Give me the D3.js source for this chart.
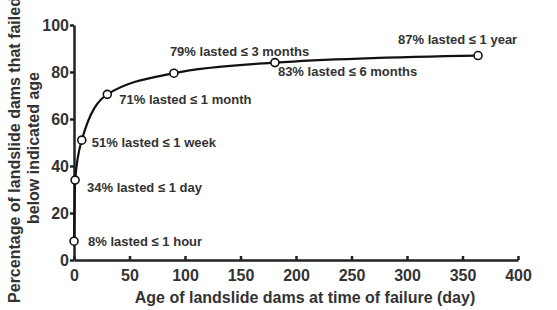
<!DOCTYPE html>
<html>
<head>
<meta charset="utf-8">
<script src="https://cdn.jsdelivr.net/npm/d3@7"></script>
<style>
body { margin: 0; background: #fff; }
text { font-family: "Liberation Sans", Arial, sans-serif; font-weight: bold; fill: #333; }
.axis path, .axis line { stroke: #222; stroke-width: 2.5; }
.axis text { font-size: 16px; }
.note { font-size: 13px; }
.title { font-size: 16px; }
</style>
</head>
<body>
<script>
//Global variables
const width = 557;
const height = 310;

//Data: age of dam (days) and cumulative % failed
const ages = [0.04, 1, 7, 30, 90, 181, 364];
const percents = [8, 34, 51, 70.5, 79.5, 84, 87];
const notes = ["8% lasted ≤ 1 hour", "34% lasted ≤ 1 day", "51% lasted ≤ 1 week",
    "71% lasted ≤ 1 month", "79% lasted ≤ 3 months", "83% lasted ≤ 6 months", "87% lasted ≤ 1 year"];
const xTicks = [0, 50, 100, 150, 200, 250, 300, 350, 400];
const yTicks = [0, 20, 40, 60, 80, 100];

//label offsets from each point (px)
const noteDx = [14, 12, 10, 12, -4, 3, -80];
const noteDy = [5, 12, 7, 10, -17, 13, -12];

const data = ages.map((a, i) => ({age: a, pct: percents[i], note: notes[i]}));

//Scales
const xScale = d3.scaleLinear()
    .domain([0, 400])
    .range([74, 518]);

const yScale = d3.scaleLinear()
    .domain([0, 100])
    .range([260, 25]);

//SVG element
const svg = d3.select("body")
    .append("svg")
    .attr("width", width)
    .attr("height", height);

//Axes
svg.append("g")
    .attr("class", "axis")
    .attr("transform", "translate(0,260)")
    .call(d3.axisBottom(xScale).tickValues(xTicks).tickSizeInner(-4).tickSizeOuter(0).tickPadding(10))
    .call(g => g.selectAll(".tick text").attr("fill", "#333"));

svg.append("g")
    .attr("class", "axis")
    .attr("transform", "translate(74,0)")
    .call(d3.axisLeft(yScale).tickValues(yTicks).tickSizeInner(4).tickSizeOuter(0).tickPadding(1))
    .call(g => g.selectAll(".tick text").attr("fill", "#333"));

//Line
const line = d3.line()
    .x(d => xScale(d.age))
    .y(d => yScale(d.pct))
    .curve(d3.curveMonotoneX);

svg.append("path")
    .datum(data)
    .attr("d", line)
    .attr("fill", "none")
    .attr("stroke", "#111")
    .attr("stroke-width", 2.2);

//Points
svg.selectAll(".pt")
    .data(data)
    .join("circle")
    .attr("class", "pt")
    .attr("cx", d => xScale(d.age))
    .attr("cy", d => yScale(d.pct))
    .attr("r", 4)
    .attr("fill", "#fff")
    .attr("stroke", "#111")
    .attr("stroke-width", 1.6);

//Notes
svg.selectAll(".note")
    .data(data)
    .join("text")
    .attr("class", "note")
    .attr("x", (d, i) => xScale(d.age) + noteDx[i])
    .attr("y", (d, i) => yScale(d.pct) + noteDy[i])
    .text(d => d.note);

//Axis titles
svg.append("text")
    .attr("class", "title")
    .attr("x", 305)
    .attr("y", 303)
    .attr("text-anchor", "middle")
    .text("Age of landslide dams at time of failure (day)");

svg.append("text")
    .attr("class", "title")
    .attr("transform", "translate(20,150) rotate(-90)")
    .attr("text-anchor", "middle")
    .text("Percentage of landslide dams that failed");

svg.append("text")
    .attr("class", "title")
    .attr("transform", "translate(39,148) rotate(-90)")
    .attr("text-anchor", "middle")
    .text("below indicated age");
</script>
</body>
</html>
